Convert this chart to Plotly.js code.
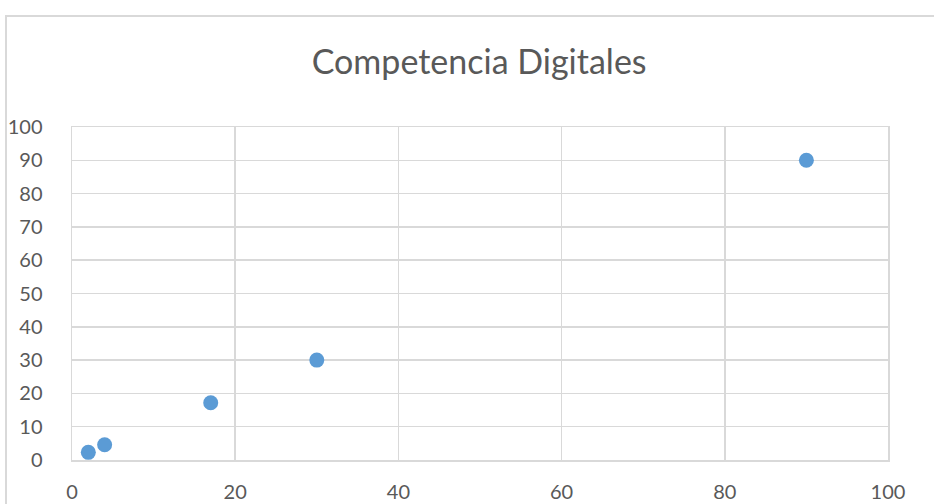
<!DOCTYPE html>
<html>
<head>
<meta charset="utf-8">
<script src="https://cdn.plot.ly/plotly-3.0.1.min.js"></script>
<style>
html,body{margin:0;padding:0;background:#fff;overflow:hidden;}
#frame{position:absolute;left:5px;top:15px;width:1000px;height:600px;border-left:2px solid #d9d9d9;border-top:2px solid #d9d9d9;pointer-events:none;z-index:5;}
#chart{position:absolute;left:0;top:0;width:934px;height:504px;}
</style>
</head>
<body>
<div id="chart"></div>
<div id="frame"></div>
<script>
const xValues = [2, 4, 17, 30, 90];
const yValues = [2.3, 4.6, 17.2, 30, 90];
const chartTitle = "Competencia Digitales";

const trace = {
  type: 'scatter',
  mode: 'markers',
  x: xValues,
  y: yValues,
  marker: {color: '#5B9BD5', size: 15},
  hoverinfo: 'x+y'
};

const layout = {
  width: 934,
  height: 504,
  paper_bgcolor: '#ffffff',
  plot_bgcolor: '#ffffff',
  margin: {l: 72, r: 46, t: 127, b: 44},
  showlegend: false,
  title: {
    text: chartTitle,
    font: {family: 'Lato, sans-serif', size: 34, color: '#595959'},
    x: 0.513, xanchor: 'center',
    y: 1 - 62/504, yanchor: 'middle', yref: 'container'
  },
  xaxis: {
    range: [0, 100],
    dtick: 20,
    tick0: 0,
    showgrid: true,
    gridcolor: '#d9d9d9',
    gridwidth: 1.5,
    zeroline: false,
    showline: true,
    linecolor: '#d9d9d9',
    linewidth: 1.5,
    mirror: true,
    ticks: '',
    ticklabelstandoff: 13,
    tickfont: {family: 'Lato, sans-serif', size: 20, color: '#595959'},
    fixedrange: true
  },
  yaxis: {
    range: [0, 100],
    dtick: 10,
    tick0: 0,
    showgrid: true,
    gridcolor: '#d9d9d9',
    gridwidth: 1.5,
    zeroline: false,
    showline: true,
    linecolor: '#d9d9d9',
    linewidth: 1.5,
    mirror: true,
    ticks: '',
    ticklabelstandoff: 24,
    tickfont: {family: 'Lato, sans-serif', size: 20, color: '#595959'},
    fixedrange: true
  }
};

Plotly.newPlot('chart', [trace], layout, {displayModeBar: false, staticPlot: true});
</script>
</body>
</html>
